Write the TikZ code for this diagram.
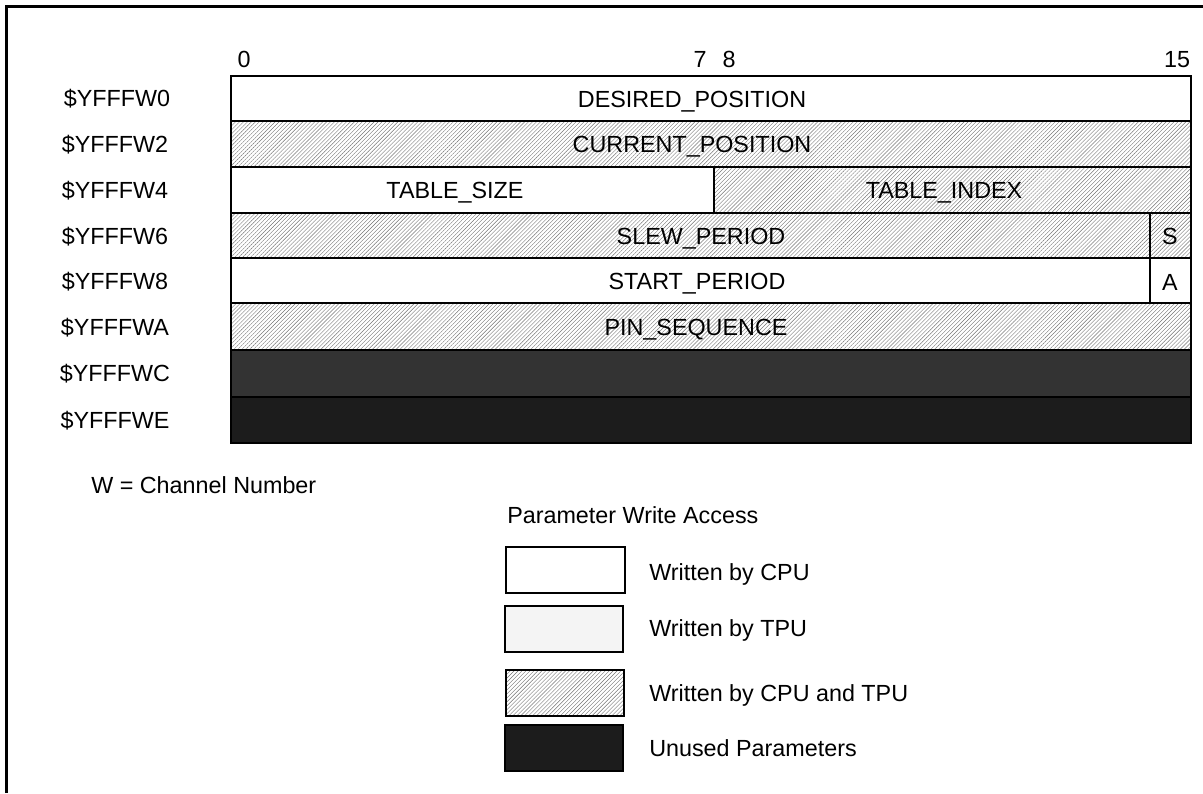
\documentclass[tikz,border=0pt]{standalone}
\usepackage{fontspec}
\setmainfont{Liberation Sans}
\usetikzlibrary{patterns.meta}
\definecolor{darkA}{HTML}{333333}
\definecolor{darkB}{HTML}{1C1C1C}
\definecolor{lightT}{HTML}{F4F4F4}
\begin{document}
\begin{tikzpicture}[x=0.75pt,y=-0.75pt,
  txt/.style={font=\fontsize{17.5}{20}\selectfont, inner sep=0pt, text height=12.5pt, text depth=0pt},
  ltxt/.style={txt, anchor=west},
  cell/.style={draw=black, line width=1.5pt},
  hatch/.style={pattern={Lines[angle=45,distance=2.1pt,line width=0.3pt]}, pattern color=black!55},
  frame/.style={draw=black, line width=2.25pt}]
\useasboundingbox (0,0) rectangle (1203,793);
% outer frame (top and left only)
\draw[frame] (6.5,793) -- (6.5,6.5) -- (1203,6.5);

% bit numbers
\node[txt] (b0) at (244,59) {0};
\node[txt] (b7) at (700,59) {7};
\node[txt] (b8) at (729,59) {8};
\node[txt] (b15) at (1177,59) {15};

% register cells
\path[cell] (231,76) rectangle (1191,121);
\path[cell,hatch] (231,121) rectangle (1191,167);
\path[cell] (231,167) rectangle (714,213);
\path[cell,hatch] (714,167) rectangle (1191,213);
\path[cell,hatch] (231,213) rectangle (1150,258);
\path[cell,hatch] (1150,213) rectangle (1191,258);
\path[cell] (231,258) rectangle (1150,303);
\path[cell] (1150,258) rectangle (1191,303);
\path[cell,hatch] (231,303) rectangle (1191,350);
\path[cell,fill=darkA] (231,350) rectangle (1191,397);
\path[cell,fill=darkB] (231,397) rectangle (1191,443);

% field names
\node[txt] (f0) at (692,99) {DESIRED\_POSITION};
\node[txt] (f2) at (692,144) {CURRENT\_POSITION};
\node[txt] (f4a) at (455,190) {TABLE\_SIZE};
\node[txt] (f4b) at (944,190) {TABLE\_INDEX};
\node[txt] (f6a) at (701,236) {SLEW\_PERIOD};
\node[txt] (f6b) at (1170,236) {S};
\node[txt] (f8a) at (697,281) {START\_PERIOD};
\node[txt] (f8b) at (1170,282) {A};
\node[txt] (fA) at (696,327) {PIN\_SEQUENCE};

% addresses
\node[txt] (a0) at (117,98) {\$YFFFW0};
\node[txt] (a2) at (115,144) {\$YFFFW2};
\node[txt] (a4) at (115,190) {\$YFFFW4};
\node[txt] (a6) at (115,236) {\$YFFFW6};
\node[txt] (a8) at (115,281) {\$YFFFW8};
\node[txt] (aA) at (115,327) {\$YFFFWA};
\node[txt] (aC) at (115,373) {\$YFFFWC};
\node[txt] (aE) at (115,420) {\$YFFFWE};

% notes and legend
\node[ltxt] (wnote) at (91,485) {W = Channel Number};
\node[ltxt] (lgtitle) at (507,515) {Parameter Write Access};

\path[cell] (506,547) rectangle (625,593);
\path[cell,fill=lightT] (505,606) rectangle (623,652);
\path[cell,hatch] (506,670) rectangle (624,716);
\path[cell,fill=darkB] (505,725) rectangle (623,771);

\node[ltxt] (lg1) at (649,572) {Written by CPU};
\node[ltxt] (lg2) at (649,628) {Written by TPU};
\node[ltxt] (lg3) at (649,693) {Written by CPU and TPU};
\node[ltxt] (lg4) at (649,748) {Unused Parameters};
\end{tikzpicture}
\end{document}
